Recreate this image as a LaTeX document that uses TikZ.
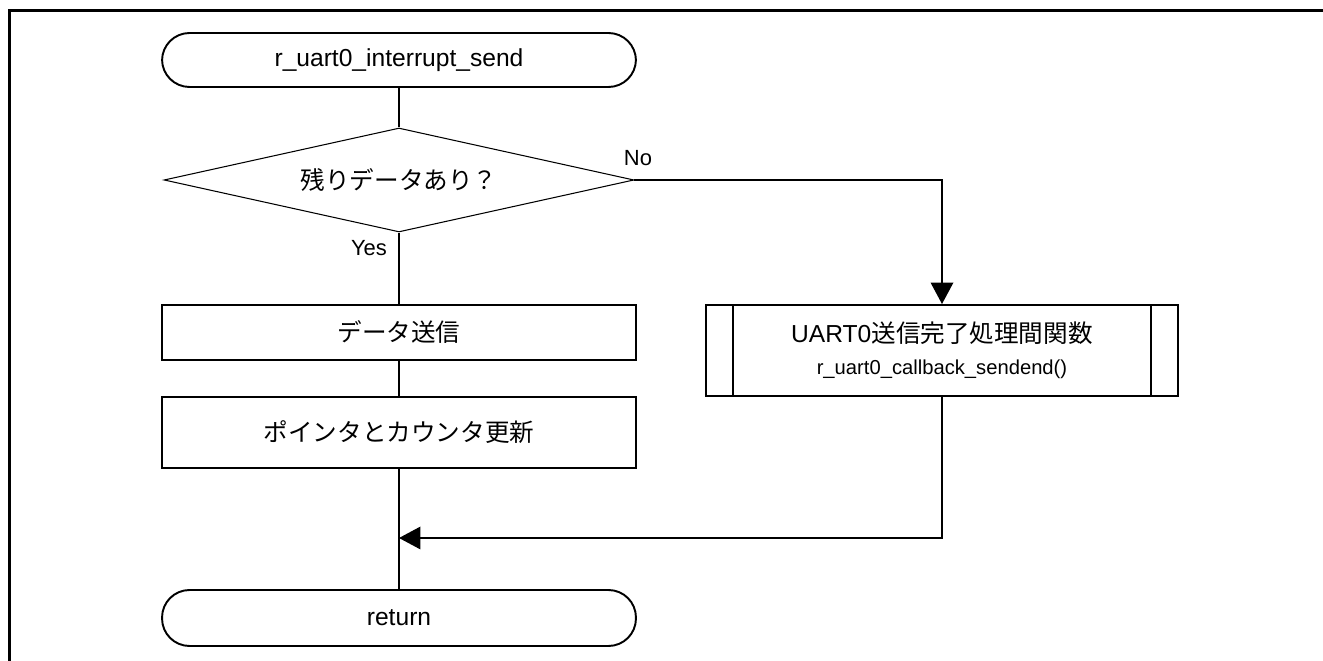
\documentclass[tikz,border=0pt]{standalone}
\usepackage{fontspec}
\setmainfont{Liberation Sans}
\newfontfamily\jp{Noto Sans CJK JP}
\usetikzlibrary{arrows.meta,shapes.geometric}

\begin{document}
\begin{tikzpicture}[x=0.02cm,y=-0.02cm]
\tikzstyle{flow}= [line width=1.1pt]
\tikzstyle{dep}= [flow,-{Triangle[length=0.43cm,width=0.45cm]}]
\tikzstyle{term}= [rectangle,draw,line width=1.1pt,rounded corners=0.55cm,minimum width=9.48cm,font=\fontsize{14}{17}\selectfont]
\tikzstyle{proc}= [rectangle,draw,line width=1.1pt,minimum width=9.48cm,font=\fontsize{14}{17}\selectfont]
\tikzstyle{cond}= [diamond,draw,line width=0.6pt,inner sep=0pt,aspect=4.52,minimum width=9.4cm,minimum height=2.08cm,font=\fontsize{14}{17}\selectfont]
\tikzstyle{lbl}= [font=\fontsize{12.5}{15}\selectfont]
\useasboundingbox (0,0) rectangle (1323,661);
% frame
\draw[line width=1.7pt] (9.5,661) -- (9.5,11) -- (1323,11);
\path
	(399,60)  node[term,minimum height=1.08cm] (start) {r\_uart0\_interrupt\_send}
	(399,180) node[cond] (rest) {{\jp 残りデータあり？}}
	(399,332.5) node[proc,minimum height=1.1cm] (send) {{\jp データ送信}}
	(399,432.5) node[proc,minimum height=1.42cm] (upd) {{\jp ポインタとカウンタ更新}}
	(942,350.5) node[proc,minimum width=9.44cm,minimum height=1.82cm,align=center] (done)
		{UART0{\jp 送信完了処理間関数}\\[1pt]{\fontsize{11.5}{14}\selectfont r\_uart0\_callback\_sendend()}}
	(399,618) node[term,minimum height=1.12cm] (ret) {return}
;
\draw[flow] ([xshift=0.56cm]done.north west) -- ([xshift=0.56cm]done.south west);
\draw[flow] ([xshift=-0.56cm]done.north east) -- ([xshift=-0.56cm]done.south east);
\coordinate (turn) at (942,180);
\coordinate (join) at (399,538);
\draw[flow] (start) -- (rest);
\draw[flow] (rest) -- (send);
\draw[flow] (send) -- (upd);
\draw[flow] (upd) -- (ret);
\draw[dep] (rest.east) -- (turn) -- (done.north);
\draw[dep] (done.south) |- (join);
\node[lbl] at (638,158) {No};
\node[lbl] at (369,248) {Yes};
\end{tikzpicture}
\end{document}
